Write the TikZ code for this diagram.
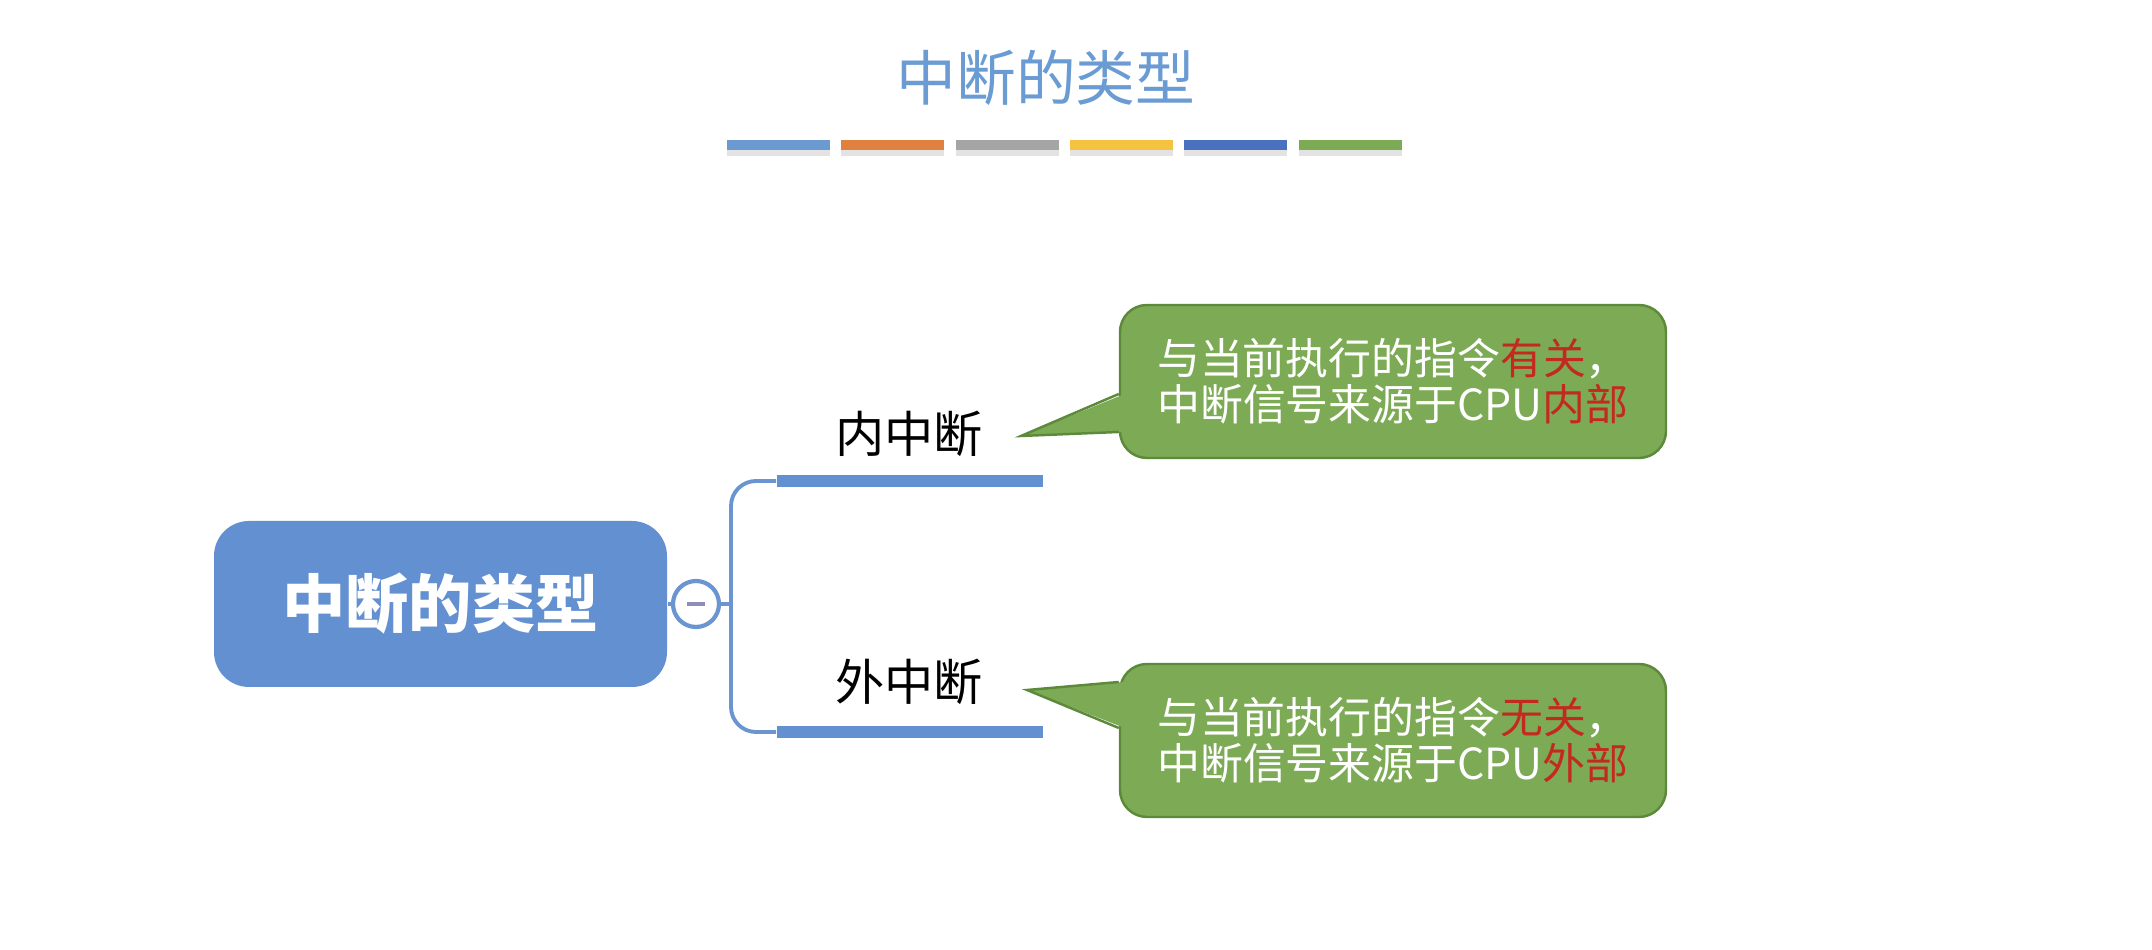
\documentclass[tikz,border=0pt]{standalone}
\usepackage{xcolor}
\usepackage{fontspec}
\setmainfont{Noto Sans CJK SC}
\usepackage{tikz}
\usetikzlibrary{shadows}

\begin{document}
\begin{tikzpicture}[
    rootbox/.style={rectangle, rounded corners=0.35cm, fill=rootblue, text=white, minimum width=4.53cm, minimum height=1.66cm, font=\fontsize{18}{21}\selectfont\bfseries},
    toggle/.style={circle, draw=linkblue, line width=1.2pt, fill=white, minimum size=0.46cm, inner sep=0pt},
    link/.style={draw=linkblue, line width=1.1pt},
    branchbar/.style={rectangle, fill=rootblue, minimum width=2.66cm, minimum height=0.12cm, inner sep=0pt},
    branchlabel/.style={font=\fontsize{14}{16}\selectfont, text=black},
    notebox/.style={rectangle, rounded corners=0.27cm, fill=notegreen, draw=noteedge, line width=0.7pt, minimum width=5.46cm, minimum height=1.53cm, text=white, align=center, font=\fontsize{12.2}{13.2}\selectfont},
    colorbar/.style={rectangle, minimum width=1.03cm, minimum height=0.10cm, inner sep=0pt, drop shadow={shadow xshift=0pt, shadow yshift=-0.6mm, opacity=0.22}}
  ]
  \definecolor{titleblue}{HTML}{6A9BD3}
  \definecolor{rootblue}{HTML}{6290D0}
  \definecolor{linkblue}{HTML}{6A95D0}
  \definecolor{notegreen}{HTML}{7DAA55}
  \definecolor{noteedge}{HTML}{5C8A3A}
  \definecolor{notered}{HTML}{C32A1F}
  \definecolor{markgray}{HTML}{8E8FB8}
  \definecolor{barA}{HTML}{6A9AD0}
  \definecolor{barB}{HTML}{E0813F}
  \definecolor{barC}{HTML}{A5A5A5}
  \definecolor{barD}{HTML}{F5C242}
  \definecolor{barE}{HTML}{4A71BE}
  \definecolor{barF}{HTML}{7DAA55}

  \useasboundingbox (0,0) rectangle (21.52,9.5);

  % heading
  \node[font=\fontsize{17}{20}\selectfont, text=titleblue] (title) at (10.46,8.72) {中断的类型};
  \foreach \c [count=\i from 0] in {barA,barB,barC,barD,barE,barF}
    \node[colorbar, fill=\c, anchor=west] (bar\i) at (7.26+1.144*\i, 8.05) {};

  % mind map
  \node[rootbox] (root) at (4.405,3.46) {中断的类型};
  \node[toggle] (tog) at (6.96,3.46) {};
  \draw[markgray, line width=1.3pt] ([xshift=-0.09cm]tog.center) -- ([xshift=0.09cm]tog.center);
  \draw[link] (root) -- (tog);

  \node[branchbar, anchor=west] (inbar) at (7.76,4.69) {};
  \node[branchbar, anchor=west] (exbar) at (7.76,2.18) {};
  \coordinate (hub) at (7.31,3.46);
  \draw[link] (tog) -- (hub);
  \draw[link, rounded corners=0.25cm] (hub) |- (inbar.west);
  \draw[link, rounded corners=0.25cm] (hub) |- (exbar.west);

  \node[branchlabel] (inlabel) at (9.09,5.16) {内中断};
  \node[branchlabel] (exlabel) at (9.09,2.68) {外中断};

  % notes
  \node[notebox] (innote) at (13.93,5.685) {与当前执行的指令\textcolor{notered}{有关}，\\中断信号来源于CPU\textcolor{notered}{内部}};
  \coordinate (intip) at (10.21,5.14);
  \fill[notegreen] (intip) -- ([shift={(0.06,-0.125)}]innote.west) -- ([shift={(0.06,-0.505)}]innote.west) -- cycle;
  \draw[noteedge, line width=0.7pt] ([yshift=-1.25mm]innote.west) -- (intip) -- ([yshift=-5.05mm]innote.west);

  \node[notebox] (exnote) at (13.93,2.095) {与当前执行的指令\textcolor{notered}{无关}，\\中断信号来源于CPU\textcolor{notered}{外部}};
  \coordinate (extip) at (10.27,2.60);
  \fill[notegreen] (extip) -- ([shift={(0.06,5.85mm)}]exnote.west) -- ([shift={(0.06,1.25mm)}]exnote.west) -- cycle;
  \draw[noteedge, line width=0.7pt] ([yshift=5.85mm]exnote.west) -- (extip) -- ([yshift=1.25mm]exnote.west);
\end{tikzpicture}
\end{document}
